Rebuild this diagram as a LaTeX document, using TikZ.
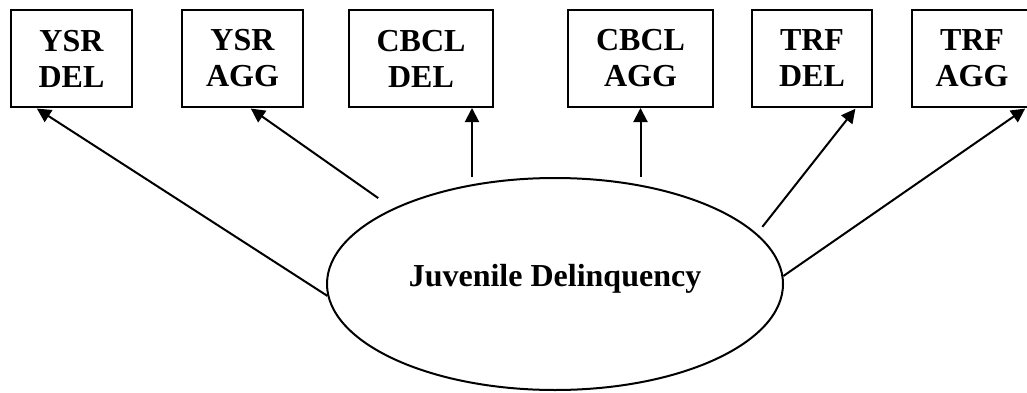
\documentclass[tikz,border=0pt]{standalone}
\usepackage{fontspec}
\setmainfont{Liberation Serif}
\usetikzlibrary{shapes.geometric,arrows.meta}

\begin{document}
\begin{tikzpicture}[x=0.5pt, y=0.5pt, >={Triangle[length=7pt,width=7pt]}, line width=1pt]
    \tikzstyle{every node}=[font=\fontsize{16}{18}\selectfont\bfseries]
    \tikzstyle{measure}=[rectangle, draw, minimum height=48.5pt, inner sep=0pt, align=center]
    \tikzstyle{factor}=[ellipse, draw, minimum width=228pt, minimum height=106pt, inner sep=0pt, text height=8pt, text depth=6pt]
    \useasboundingbox (0,0) rectangle (1027,392);

    % the six observed scales
    \foreach \m/\l/\x/\w in {ysrdel/{YSR\\DEL}/71.5/60.5, ysragg/{YSR\\AGG}/242.5/60.5,
        cbcldel/{CBCL\\DEL}/421/72, cbclagg/{CBCL\\AGG}/640.5/72.5,
        trfdel/{TRF\\DEL}/812/60, trfagg/{TRF\\AGG}/972/60}
    \node [measure, minimum width=\w pt] (\m) at (\x,333.5) {\l};

    % the latent factor
    \node [factor] (jd) at (555,108) {Juvenile Delinquency};

    % Draw the vertical arrows
    \draw [->] ([xshift=25.5pt]cbcldel.south |- jd.north) -- ([xshift=25.5pt]cbcldel.south);
    \draw [->] (cbclagg.south |- jd.north) -- (cbclagg.south);

    % Draw the slanted arrows
    \foreach \m/\a/\s/\g in {ysrdel/183.5/-17.75/0, ysragg/155.6/3.75/9,
        trfdel/14.4/22/4.3, trfagg/2.5/27/0}
    \draw [->, shorten <=\g pt, shorten >=0.5pt] (jd.\a) -- ([xshift=\s pt]\m.south);

\end{tikzpicture}
\end{document}
